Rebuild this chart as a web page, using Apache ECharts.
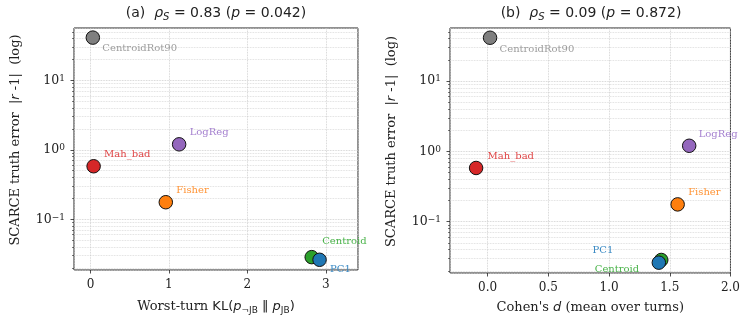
<!DOCTYPE html>
<html>
<head>
<meta charset="utf-8">
<script src="https://cdn.jsdelivr.net/npm/echarts@6/dist/echarts.min.js"></script>
<style>
html, body { margin: 0; padding: 0; background: #fff; }
#chart { width: 743px; height: 320px; }
</style>
</head>
<body>
<div id="chart"></div>
<script>
// values
const methods = ['CentroidRot90', 'Mah_bad', 'LogReg', 'Fisher', 'Centroid', 'PC1'];
const truthError = [41.3, 0.58, 1.2, 0.176, 0.0285, 0.0261];
const worstTurnKL = [0.03, 0.04, 1.13, 0.96, 2.82, 2.92];
const cohensD = [0.02, -0.095, 1.66, 1.565, 1.43, 1.41];
const markerColors = ['#7f7f7f', '#d62728', '#9467bd', '#ff7f0e', '#2ca02c', '#1f77b4'];
const textColors = ['#9c9c9c', '#e04546', '#a47fcf', '#ff9436', '#4bb44b', '#3a8ac4'];
// log-axis minor ticks (2..9 of each decade)
const minorTicks = [0.02, 0.03, 0.04, 0.05, 0.06, 0.07, 0.08, 0.09,
    0.2, 0.3, 0.4, 0.5, 0.6, 0.7, 0.8, 0.9,
    2, 3, 4, 5, 6, 7, 8, 9,
    20, 30, 40, 50];

// label offsets from the marker centre: [dx, dy, align]
const labelOffsetsA = [[10, 11, 'left'], [11, -11, 'left'], [11, -11, 'left'], [11, -11, 'left'], [11, -15, 'left'], [11, 10, 'left']];
const labelOffsetsB = [[10, 12, 'left'], [12, -11, 'left'], [10, -11, 'left'], [11, -11, 'left'], [-66, 10, 'left'], [-45, -12, 'right']];

const SERIF = 'DejaVu Serif';
const SANS = 'DejaVu Sans';
const INK = '#222';
const SYM = 13.5;
const Y_MIN = 0.0186, Y_MAX = 56.8;

const chart = echarts.init(document.getElementById('chart'));

function buildPoints(xs, offsets) {
    return methods.map((m, i) => ({
        name: m,
        value: [xs[i], truthError[i]],
        itemStyle: { color: markerColors[i] },
        label: {
            show: true,
            formatter: m,
            position: [SYM / 2 + offsets[i][0], SYM / 2 + offsets[i][1]],
            align: offsets[i][2],
            verticalAlign: 'middle',
            color: textColors[i],
            fontFamily: SERIF,
            fontSize: 10
        }
    }));
}

const titleRich = {
    i: { fontFamily: SANS, fontStyle: 'italic', fontSize: 14, color: INK, lineHeight: 18 },
    sub: { fontFamily: SANS, fontStyle: 'italic', fontSize: 10, color: INK, lineHeight: 10, verticalAlign: 'bottom' }
};

function xAxisOpt(idx, min, max, name, rich, fmt, showMax) {
    return {
        gridIndex: idx,
        type: 'value',
        position: 'bottom',
        min: min,
        max: max,
        axisLine: { show: false, onZero: false },
        axisTick: { length: 3.5, lineStyle: { color: INK, width: 0.8 } },
        axisLabel: {
            showMinLabel: false,
            showMaxLabel: showMax,
            fontFamily: SERIF, fontSize: 12, color: INK, margin: 9,
            formatter: fmt
        },
        splitLine: { show: true, lineStyle: { type: 'dotted', color: '#c8c8c8', width: 0.8 } },
        name: name,
        nameLocation: 'middle',
        nameGap: 28,
        nameTextStyle: { fontFamily: SERIF, fontSize: 13, color: INK, rich: rich }
    };
}

const xRichA = {
    s: { fontFamily: SANS, fontSize: 13, color: INK, lineHeight: 17 },
    i: { fontFamily: SANS, fontStyle: 'italic', fontSize: 13, color: INK, lineHeight: 17 },
    sub: { fontFamily: SANS, fontSize: 9, color: INK, lineHeight: 9, verticalAlign: 'bottom' }
};
const xRichB = {
    i: { fontFamily: SANS, fontStyle: 'italic', fontSize: 13, color: INK }
};

function yAxisOpt(idx) {
    return {
        gridIndex: idx,
        type: 'log',
        logBase: 10,
        position: 'left',
        min: Y_MIN,
        max: Y_MAX,
        axisLine: { show: false, onZero: false },
        axisTick: { length: 3.5, lineStyle: { color: INK, width: 0.8 } },
        axisLabel: {
            showMinLabel: false,
            showMaxLabel: false,
            fontFamily: SERIF, fontSize: 12.5, color: INK, margin: 9,
            formatter: function (v) {
                const e = Math.round(Math.log10(v));
                return '10{sup|' + (e < 0 ? '\u2212' + (-e) : e) + '}';
            },
            rich: {
                sup: { fontFamily: SERIF, fontSize: 9, color: INK, lineHeight: 9, verticalAlign: 'top' }
            }
        },
        splitLine: { show: true, lineStyle: { type: 'dotted', color: '#c8c8c8', width: 0.8 } },
        name: 'SCARCE truth error  |{i|r} -1|  (log)',
        nameLocation: 'middle',
        nameGap: 52,
        nameTextStyle: {
            fontFamily: SERIF, fontSize: 13, color: INK,
            padding: [0, 0, 0, 18],
            rich: { i: { fontFamily: SANS, fontStyle: 'italic', fontSize: 13, color: INK } }
        }
    };
}

// overlay axis that only carries the minor ticks and minor grid lines
function yMinorAxisOpt(idx) {
    return {
        gridIndex: idx,
        type: 'log',
        logBase: 10,
        position: 'left',
        min: Y_MIN,
        max: Y_MAX,
        axisLine: { show: false, onZero: false },
        axisTick: { show: true, customValues: minorTicks, length: 2, lineStyle: { color: INK, width: 0.6 } },
        axisLabel: { show: false },
        splitLine: { show: true, lineStyle: { type: 'dotted', color: '#d6d6d6', width: 0.8 } }
    };
}

chart.setOption({
    animation: false,
    title: [
        {
            text: '(a)  {i|\u03c1}{sub|S} = 0.83 ({i|p} = 0.042)',
            left: 216, top: 4, padding: 0, textAlign: 'center',
            textStyle: { fontFamily: SANS, fontSize: 14, fontWeight: 'normal', color: INK, lineHeight: 18, rich: titleRich }
        },
        {
            text: '(b)  {i|\u03c1}{sub|S} = 0.09 ({i|p} = 0.872)',
            left: 591, top: 4, padding: 0, textAlign: 'center',
            textStyle: { fontFamily: SANS, fontSize: 14, fontWeight: 'normal', color: INK, lineHeight: 18, rich: titleRich }
        }
    ],
    grid: [
        { left: 74, right: 385, top: 28, bottom: 47, show: true, borderColor: INK, borderWidth: 1, backgroundColor: 'transparent' },
        { left: 450, right: 10, top: 28, bottom: 47, show: true, borderColor: INK, borderWidth: 1, backgroundColor: 'transparent' }
    ],
    xAxis: [
        xAxisOpt(0, -0.21, 3.41,
            'Worst-turn {s|KL(}{i|p}{sub|\u00acJB} {s|\u2016} {i|p}{sub|JB}{s|)}', xRichA,
            v => String(v), false),
        xAxisOpt(1, -0.31, 2.0,
            "Cohen's {i|d} (mean over turns)", xRichB,
            v => v.toFixed(1), true)
    ],
    yAxis: [yAxisOpt(0), yAxisOpt(1), yMinorAxisOpt(0), yMinorAxisOpt(1)],
    series: [
        {
            type: 'scatter', xAxisIndex: 0, yAxisIndex: 0,
            symbol: 'circle', symbolSize: SYM,
            itemStyle: { borderColor: '#111', borderWidth: 1, opacity: 1 },
            data: buildPoints(worstTurnKL, labelOffsetsA),
            emphasis: { disabled: true }
        },
        {
            type: 'scatter', xAxisIndex: 1, yAxisIndex: 1,
            symbol: 'circle', symbolSize: SYM,
            itemStyle: { borderColor: '#111', borderWidth: 1, opacity: 1 },
            data: buildPoints(cohensD, labelOffsetsB),
            emphasis: { disabled: true }
        }
    ]
});
</script>
</body>
</html>
